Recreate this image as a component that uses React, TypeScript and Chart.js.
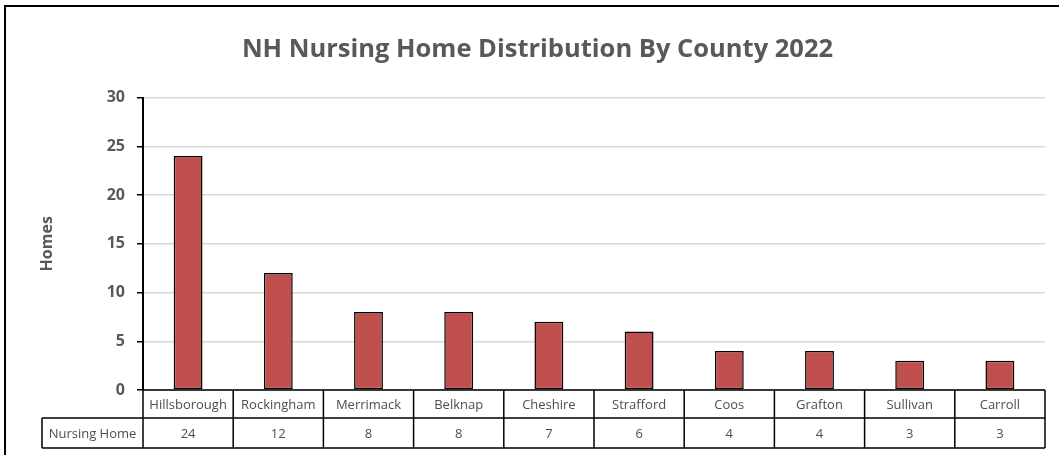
import React, { useEffect, useRef } from "react";
import { Chart, registerables } from "chart.js";

Chart.register(...registerables);

const TITLE = "NH Nursing Home Distribution By County 2022";
const Y_TITLE = "Homes";
const ROW_LABEL = "Nursing Home";
const counties = ["Hillsborough", "Rockingham", "Merrimack", "Belknap", "Cheshire", "Strafford", "Coos", "Grafton", "Sullivan", "Carroll"];
const homes = [24, 12, 8, 8, 7, 6, 4, 4, 3, 3];
const yTicks = [0, 5, 10, 15, 20, 25, 30];

const FONT = "'Open Sans', 'Noto Sans', sans-serif";

const tablePlugin = {
  id: "dataTable",
  afterDraw(chart: any) {
    const { ctx, chartArea } = chart;
    const x = chart.scales.x;
    const n = counties.length;
    const left = chartArea.left;
    const right = chartArea.right;
    const w = (right - left) / n;
    const top = chartArea.bottom;
    const row1 = top + 28;
    const row2 = row1 + 30;
    const labelLeft = 42;
    ctx.save();
    ctx.strokeStyle = "#000";
    ctx.lineWidth = 1.5;
    ctx.beginPath();
    ctx.moveTo(left, top);
    ctx.lineTo(right, top);
    ctx.moveTo(labelLeft, row1);
    ctx.lineTo(right, row1);
    ctx.moveTo(labelLeft, row2);
    ctx.lineTo(right, row2);
    ctx.moveTo(labelLeft, row1);
    ctx.lineTo(labelLeft, row2);
    for (let i = 0; i <= n; i++) {
      const cx = x.getPixelForValue(i) - w / 2;
      ctx.moveTo(cx, top);
      ctx.lineTo(cx, row2);
    }
    ctx.stroke();
    ctx.fillStyle = "#4d4d4d";
    ctx.font = `13px ${FONT}`;
    ctx.textAlign = "center";
    ctx.textBaseline = "middle";
    for (let i = 0; i < n; i++) {
      const cx = x.getPixelForValue(i);
      ctx.fillText(counties[i], cx, (top + row1) / 2 + 1);
      ctx.fillText(String(homes[i]), cx, (row1 + row2) / 2 + 1);
    }
    ctx.fillText(ROW_LABEL, (labelLeft + left) / 2, (row1 + row2) / 2 + 1);
    // outer frame
    ctx.lineWidth = 2;
    ctx.beginPath();
    ctx.moveTo(5, chart.height + 5);
    ctx.lineTo(5, 6);
    ctx.lineTo(chart.width + 5, 6);
    ctx.stroke();
    ctx.restore();
  },
};

export default function App() {
  const ref = useRef<HTMLCanvasElement>(null);
  useEffect(() => {
    document.body.style.margin = "0";
    const chart = new Chart(ref.current!, {
      type: "bar",
      data: {
        labels: counties,
        datasets: [
          {
            label: ROW_LABEL,
            data: homes,
            backgroundColor: "#c0504d",
            borderColor: "#000",
            borderWidth: 1.5,
            borderSkipped: false,
            categoryPercentage: 1,
            barPercentage: 0.32,
          },
        ],
      },
      options: {
        animation: false,
        responsive: false,
        maintainAspectRatio: false,
        layout: { padding: { left: 30, right: 14, top: 0, bottom: 65 } },
        plugins: {
          legend: { display: false },
          tooltip: { enabled: false },
          title: {
            display: true,
            text: TITLE,
            color: "#595959",
            font: { family: FONT, size: 25.5, weight: "bold" },
            padding: { top: 34, bottom: 33 },
          },
        },
        scales: {
          x: { display: false, offset: true },
          y: {
            min: 0,
            max: 30,
            afterBuildTicks: (s: any) => {
              s.ticks = yTicks.map((v) => ({ value: v }));
            },
            afterFit: (s: any) => {
              s.width = 113;
            },
            ticks: {
              color: "#595959",
              font: { family: FONT, size: 16, weight: "bold" },
              padding: 12,
            },
            grid: {
              color: "#d9d9d9",
              lineWidth: 1.5,
              tickColor: "#000",
              tickLength: 6,
              drawTicks: true,
            },
            border: { color: "#000", width: 2 },
            title: {
              display: true,
              text: Y_TITLE,
              color: "#595959",
              font: { family: FONT, size: 16, weight: "bold" },
              padding: { top: 7.5 },
            },
          },
        },
      },
      plugins: [tablePlugin],
    });
    return () => chart.destroy();
  }, []);
  return <canvas ref={ref} width={1059} height={455} style={{ display: "block" }} />;
}
